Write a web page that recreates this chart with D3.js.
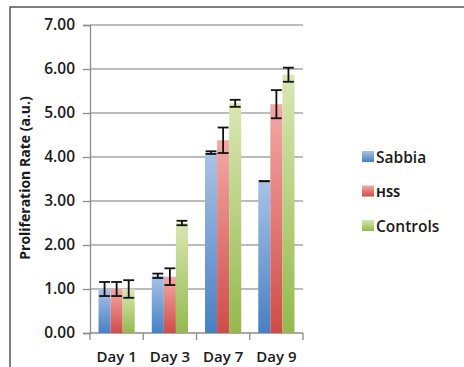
<!DOCTYPE html>
<html>
<head>
<meta charset="utf-8">
<script src="https://cdn.jsdelivr.net/npm/d3@7"></script>
<style>
  html, body { margin: 0; padding: 0; background: #fff; }
  svg { display: block; }
</style>
</head>
<body>
<svg id="chart"></svg>
<script>
// --- Data ---
const days = ["Day 1", "Day 3", "Day 7", "Day 9"];
const seriesNames = ["Sabbia", "HSS", "Controls"];
const sabbia = [1.00, 1.30, 4.10, 3.45];
const sabbiaErr = [0.16, 0.05, 0.03, 0.00];
const hss = [1.00, 1.28, 4.38, 5.20];
const hssErr = [0.16, 0.19, 0.29, 0.32];
const controls = [1.00, 2.50, 5.22, 5.87];
const controlsErr = [0.20, 0.05, 0.08, 0.16];
const yTicks = [0, 1, 2, 3, 4, 5, 6, 7];

const values = [sabbia, hss, controls];
const errors = [sabbiaErr, hssErr, controlsErr];
const colors = [
  { top: "#a9c3e6", bottom: "#4680c4" },
  { top: "#f3a9a7", bottom: "#cf4c48" },
  { top: "#d9e7b3", bottom: "#94b94d" }
];

const width = 464, height = 367;
const margin = { top: 25, right: 161, bottom: 34, left: 90 };
const innerW = width - margin.left - margin.right;
const innerH = height - margin.top - margin.bottom;
const font = "'Open Sans', 'Liberation Sans', sans-serif";

const svg = d3.select("#chart").attr("width", width).attr("height", height);

// gradients
const defs = svg.append("defs");
colors.forEach((c, i) => {
  const g = defs.append("linearGradient")
    .attr("id", "grad" + i)
    .attr("x1", 0).attr("y1", 0).attr("x2", 0).attr("y2", 1);
  g.append("stop").attr("offset", "0%").attr("stop-color", c.top);
  g.append("stop").attr("offset", "100%").attr("stop-color", c.bottom);
});

// outer frame (top + left only visible)
svg.append("path")
  .attr("d", `M10,${height} L10,7 L${width},7`)
  .attr("fill", "none")
  .attr("stroke", "#555")
  .attr("stroke-width", 1.5);

const g = svg.append("g").attr("transform", `translate(${margin.left},${margin.top})`);

const y = d3.scaleLinear().domain([0, 7]).range([innerH, 0]);
const x0 = d3.scaleBand().domain(days).range([0, innerW]).paddingInner(0.32).paddingOuter(0.16);
const x1 = d3.scaleBand().domain(seriesNames).range([0, x0.bandwidth()]);

// gridlines
g.append("g")
  .selectAll("line")
  .data(yTicks.filter(t => t > 0))
  .join("line")
  .attr("x1", 0).attr("x2", innerW)
  .attr("y1", d => y(d)).attr("y2", d => y(d))
  .attr("stroke", "#a6a6a6")
  .attr("stroke-width", 1.3);

// y axis
const yAxisG = g.append("g")
  .call(d3.axisLeft(y).tickValues(yTicks).tickFormat(d3.format(".2f")).tickSize(7).tickPadding(8));
yAxisG.select(".domain").attr("stroke", "#8c8c8c").attr("stroke-width", 1.3);
yAxisG.selectAll(".tick line").attr("stroke", "#8c8c8c").attr("stroke-width", 1.3);
yAxisG.selectAll("text")
  .attr("fill", "#1a1a1a")
  .style("font-family", font)
  .style("font-size", "15.5px")
  .style("font-weight", 600);

// x axis with boundary ticks
const xAxisG = g.append("g").attr("transform", `translate(0,${innerH})`);
xAxisG.append("line")
  .attr("x1", 0).attr("x2", innerW)
  .attr("stroke", "#8c8c8c").attr("stroke-width", 1.3);
const step = x0.step();
xAxisG.selectAll(".bt")
  .data(d3.range(days.length + 1))
  .join("line")
  .attr("class", "bt")
  .attr("x1", i => i * step).attr("x2", i => i * step)
  .attr("y1", 0).attr("y2", 7)
  .attr("stroke", "#8c8c8c").attr("stroke-width", 1.3);
xAxisG.selectAll(".lbl")
  .data(days)
  .join("text")
  .attr("class", "lbl")
  .attr("x", d => x0(d) + x0.bandwidth() / 2)
  .attr("y", 29)
  .attr("text-anchor", "middle")
  .attr("fill", "#1a1a1a")
  .style("font-family", font)
  .style("font-size", "15px")
  .style("font-weight", 600)
  .text(d => d);

// bars
const groups = g.selectAll(".day")
  .data(days)
  .join("g")
  .attr("class", "day")
  .attr("transform", d => `translate(${x0(d)},0)`);

seriesNames.forEach((s, si) => {
  groups.append("rect")
    .attr("x", x1(s))
    .attr("width", x1.bandwidth())
    .attr("y", (d, di) => y(values[si][di]))
    .attr("height", (d, di) => innerH - y(values[si][di]))
    .attr("fill", `url(#grad${si})`);
});

// error bars
seriesNames.forEach((s, si) => {
  const cx = x1(s) + x1.bandwidth() / 2;
  const cap = x1.bandwidth() * 0.45;
  groups.each(function (d, di) {
    const v = values[si][di], e = errors[si][di];
    const eg = d3.select(this).append("g")
      .attr("stroke", "#111").attr("stroke-width", 1.8);
    eg.append("line").attr("x1", cx).attr("x2", cx)
      .attr("y1", y(v + e)).attr("y2", y(v - e));
    eg.append("line").attr("x1", cx - cap).attr("x2", cx + cap)
      .attr("y1", y(v + e)).attr("y2", y(v + e));
    eg.append("line").attr("x1", cx - cap).attr("x2", cx + cap)
      .attr("y1", y(v - e)).attr("y2", y(v - e));
  });
});

// y label
svg.append("text")
  .attr("transform", `translate(30,${margin.top + innerH / 2 - 1}) rotate(-90)`)
  .attr("text-anchor", "middle")
  .attr("fill", "#1a1a1a")
  .style("font-family", font)
  .style("font-size", "14px")
  .style("font-weight", 700)
  .text("Proliferation Rate (a.u.)");

// legend
const legend = svg.append("g").attr("transform", "translate(362,151)");
seriesNames.forEach((s, i) => {
  const lg = legend.append("g").attr("transform", `translate(0,${i * 34.5})`);
  lg.append("rect").attr("width", 12).attr("height", 11).attr("fill", `url(#grad${i})`);
  lg.append("text")
    .attr("x", 14).attr("y", 11.5)
    .attr("fill", "#1a1a1a")
    .style("font-family", font)
    .style("font-size", i === 1 ? "13px" : "15.5px")
    .style("font-weight", i === 1 ? 700 : 600)
    .text(s);
});
</script>
</body>
</html>
